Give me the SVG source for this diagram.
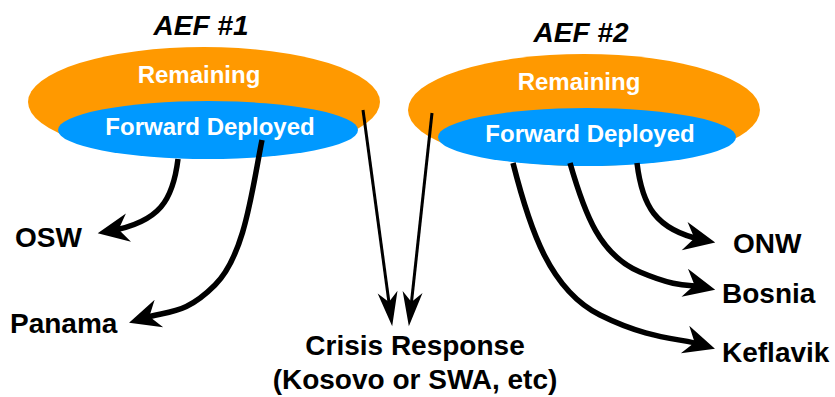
<svg xmlns="http://www.w3.org/2000/svg" width="835" height="397" viewBox="0 0 835 397">
<style>
text{font-family:"Liberation Sans",Arial,sans-serif;font-weight:bold}
.title{font-size:28px;font-style:italic;fill:#000;text-anchor:middle}
.in{font-size:24px;fill:#fff;text-anchor:middle}
.lbl{font-size:28px;fill:#000}
.orange{fill:#FF9900}
.blue{fill:#0099FF}
.thick{fill:none;stroke:#000;stroke-width:5.5;marker-end:url(#headThick)}
.thin{fill:none;stroke:#000;stroke-width:3;marker-end:url(#headThin)}
</style>
<defs>
<marker id="headThick" markerUnits="userSpaceOnUse" markerWidth="40" markerHeight="40" viewBox="-30 -15 32 30" refX="-10" refY="0" orient="auto" overflow="visible">
<path d="M0,0 L-25,-11.5 L-17,0 L-25,11.5 Z" fill="#000"/>
</marker>
<marker id="headThin" markerUnits="userSpaceOnUse" markerWidth="40" markerHeight="40" viewBox="-34 -12 36 24" refX="-12" refY="0" orient="auto" overflow="visible">
<path d="M0,0 L-31,-9 L-22,0 L-31,9 Z" fill="#000"/>
</marker>
</defs>
<rect width="835" height="397" fill="#fff"/>
<g id="aef1">
<text class="title" x="201" y="35">AEF #1</text>
<ellipse class="orange" cx="204" cy="102" rx="176" ry="55"/>
<text class="in" x="199" y="83">Remaining</text>
<ellipse class="blue" cx="208" cy="130" rx="150" ry="29"/>
<text class="in" x="210" y="135">Forward Deployed</text>
</g>
<g id="aef2">
<text class="title" x="581" y="42">AEF #2</text>
<ellipse class="orange" cx="584" cy="110" rx="176" ry="56"/>
<text class="in" x="579" y="90">Remaining</text>
<ellipse class="blue" cx="587" cy="137" rx="149" ry="29"/>
<text class="in" x="590" y="142">Forward Deployed</text>
</g>
<g id="connectors">
<path class="thick" d="M178,159 C173,200 160,222 110,231"/>
<path class="thick" d="M262,140 C252,190 245,255 215,285 S170,310 141,319"/>
<path class="thin" d="M363,110 L390.4,313"/>
<path class="thin" d="M432,113 L410.3,313"/>
<path class="thick" d="M637,163 C642,205 655,230 703,240"/>
<path class="thick" d="M570,163 C585,215 600,255 640,272 S690,284 703,287"/>
<path class="thick" d="M513,163 C530,230 550,290 600,315 S680,338 703,345"/>
</g>
<g id="osw"><text class="lbl" x="15" y="247">OSW</text></g>
<g id="panama"><text class="lbl" x="10" y="333">Panama</text></g>
<g id="crisis">
<text class="lbl" x="415" y="355" text-anchor="middle">Crisis Response</text>
<text class="lbl" x="415" y="389" text-anchor="middle">(Kosovo or SWA, etc)</text>
</g>
<g id="onw"><text class="lbl" x="733" y="253">ONW</text></g>
<g id="bosnia"><text class="lbl" x="722" y="303">Bosnia</text></g>
<g id="keflavik"><text class="lbl" x="722" y="362">Keflavik</text></g>
</svg>
